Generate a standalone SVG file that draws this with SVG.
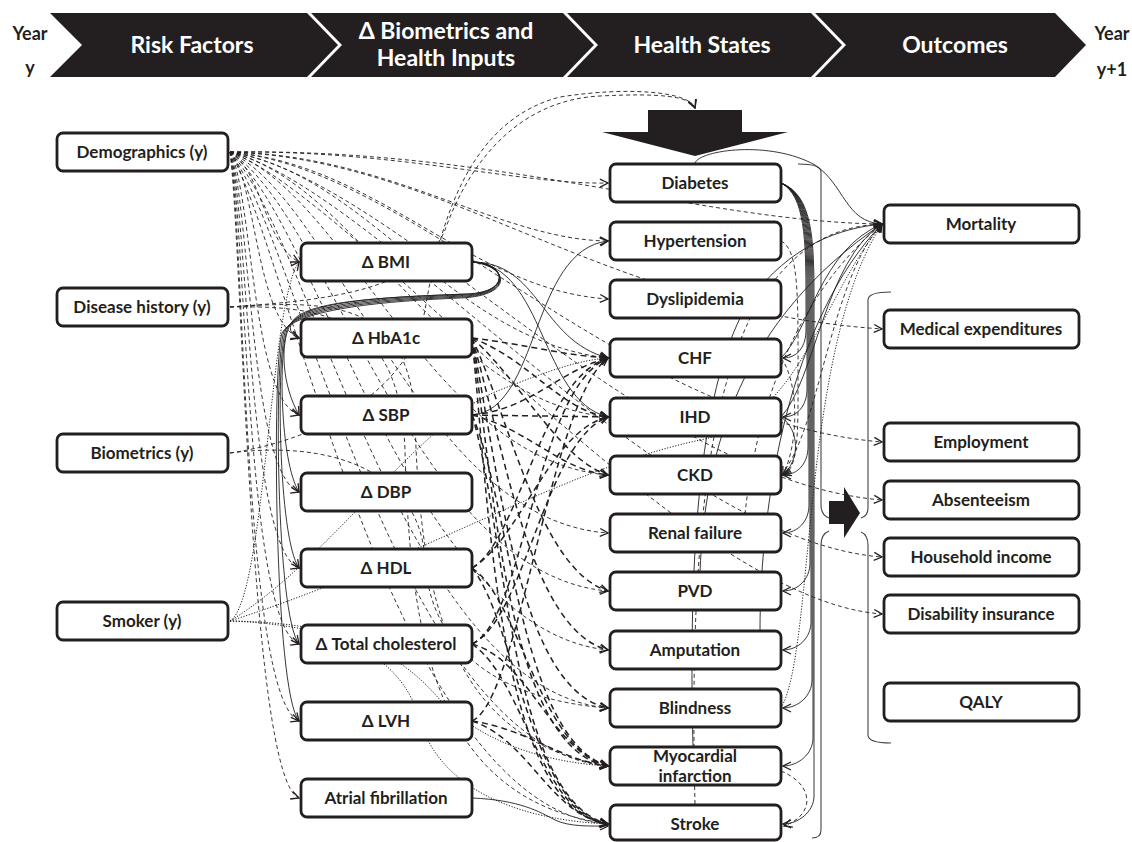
<svg xmlns="http://www.w3.org/2000/svg" width="1132" height="842" viewBox="0 0 1132 842">
<style>
.bn{fill:#231f20}
.bt{fill:#fff;font-family:Lato,"Noto Sans","Liberation Sans",sans-serif;font-weight:bold;font-size:23px;text-anchor:middle}
.yr{fill:#231f20;font-family:Lato,"Noto Sans","Liberation Sans",sans-serif;font-weight:bold;font-size:18px;text-anchor:middle}
.nb{fill:#fff;stroke:#231f20;stroke-width:2.8}
.nt{fill:#231f20;font-family:Lato,"Noto Sans","Liberation Sans",sans-serif;font-weight:bold;font-size:17px;text-anchor:middle}
.c path{fill:none;stroke:#231f20}
.c .d{stroke-width:0.9;stroke-dasharray:4 3;marker-end:url(#a)}
.c .h{stroke-width:1.5;stroke-dasharray:6 4;marker-end:url(#a)}
.c .s{stroke-width:0.9;marker-end:url(#a)}
.c .t{stroke-width:1;stroke-dasharray:1.2 1.6;marker-end:url(#a)}
.br{fill:none;stroke:#444;stroke-width:1.1}
</style>
<defs>
<marker id="a" viewBox="0 0 10 10" refX="9" refY="5" markerWidth="10" markerHeight="10" markerUnits="userSpaceOnUse" orient="auto"><path d="M1,1 L9,5 L1,9" fill="none" stroke="#231f20" stroke-width="1.3" stroke-dasharray="none"/></marker>
</defs>
<g id="banner">
<path class="bn" d="M50,13 L307,13 L338,45 L307,77 L50,77 L82,45 Z"/>
<path class="bn" d="M311,13 L563,13 L594,45 L563,77 L311,77 L342,45 Z"/>
<path class="bn" d="M567,13 L811,13 L842,45 L811,77 L567,77 L598,45 Z"/>
<path class="bn" d="M815,13 L1055,13 L1086,45 L1055,77 L815,77 L846,45 Z"/>
<text class="bt" x="192" y="53">Risk Factors</text>
<text class="bt" x="446" y="39">Δ Biometrics and</text>
<text class="bt" x="446" y="66">Health Inputs</text>
<text class="bt" x="702" y="53">Health States</text>
<text class="bt" x="955" y="53">Outcomes</text>
<text class="yr" x="30" y="40">Year</text>
<text class="yr" x="30" y="74">y</text>
<text class="yr" x="1112" y="40">Year</text>
<text class="yr" x="1112" y="76">y+1</text>
</g>
<g id="bigarrow"><path class="bn" d="M648,110 L742,110 L742,132 L788,132 L695,156 L602,132 L648,132 Z"/></g>
<g id="brackets">
<path class="br" d="M798,164 Q821,164 821,172 L821,505 Q821,515 829,518"/>
<path class="br" d="M829,531 Q821,534 821,545 L821,830 Q821,838 812,838"/>
<path class="br" d="M891,292 Q868,292 868,300 L868,508 Q868,516 861,518"/>
<path class="br" d="M861,532 Q868,535 868,545 L868,735 Q868,743 891,743"/>
<path class="bn" d="M829,501 L844,501 L844,487 L860,513 L844,538 L844,524 L829,524 Z"/>
</g>
<g class="c" id="connectors">
<path class="d" d="M230,152 C400,150 520,185 608,183"/>
<path class="d" d="M230,152 C390,155 500,240 608,241"/>
<path class="d" d="M230,152 C380,165 470,290 608,299"/>
<path class="d" d="M230,152 C370,175 450,340 608,358"/>
<path class="d" d="M230,152 C360,185 440,400 608,417"/>
<path class="d" d="M230,152 C350,195 430,460 608,475"/>
<path class="d" d="M230,152 C340,205 420,520 608,533"/>
<path class="d" d="M230,152 C330,215 415,575 608,591"/>
<path class="d" d="M230,152 C320,225 410,630 608,650"/>
<path class="d" d="M230,152 C310,235 405,690 608,708"/>
<path class="d" d="M230,152 C300,245 400,750 608,766"/>
<path class="d" d="M230,152 C290,255 395,810 608,824"/>
<path class="d" d="M230,152 C500,148 700,222 882,224"/>
<path class="d" d="M230,152 C450,160 600,310 882,329"/>
<path class="d" d="M230,152 C420,170 620,420 882,442"/>
<path class="d" d="M230,152 C400,180 640,480 882,500"/>
<path class="d" d="M230,152 C380,190 660,540 882,557"/>
<path class="d" d="M230,152 C360,200 680,600 882,614"/>
<path class="d" d="M230,152 C262,170 265,245 299,262"/>
<path class="d" d="M230,152 C256,180 256,320 299,338"/>
<path class="d" d="M230,152 C252,190 252,400 299,415"/>
<path class="d" d="M230,152 C250,200 250,475 299,492"/>
<path class="d" d="M230,152 C248,210 248,550 299,568"/>
<path class="d" d="M230,152 C246,220 246,625 299,644"/>
<path class="d" d="M230,152 C244,230 244,700 299,721"/>
<path class="d" d="M230,152 C242,240 250,780 299,798"/>
<path class="d" d="M230,307 C330,300 420,290 445,230 C470,160 520,100 600,96 C660,93 690,96 695,108"/>
<path class="d" d="M230,453 C320,440 410,390 425,310 C440,220 470,120 560,97 C630,86 690,92 695,108"/>
<path class="d" d="M230,307 C330,300 410,300 415,420 C420,600 450,740 608,766"/>
<path class="d" d="M230,307 C330,305 400,320 405,450 C410,650 440,800 608,824"/>
<path class="d" d="M230,453 C330,440 420,470 425,560 C430,650 500,700 608,708"/>
<path class="t" d="M230,621 C265,600 270,300 299,262"/>
<path class="t" d="M230,621 C330,560 420,420 500,390 C550,370 580,360 608,358"/>
<path class="t" d="M230,621 C320,622 390,640 440,700 C480,740 540,762 608,766"/>
<path class="t" d="M230,621 C330,625 400,650 420,720 C440,790 520,820 608,824"/>
<path class="t" d="M230,621 C420,560 560,470 700,440 C800,420 820,300 882,224"/>
<path class="s" d="M472,262 C506,262 512,292 468,294 C390,297 305,300 292,322 C288,330 292,336 299,338"/>
<path class="s" d="M472,262 C506,262 512,292 468,294 C390,297 305,300 290,325 C280,345 282,385 299,415"/>
<path class="s" d="M472,262 C507,263 512,293 466,295 C390,298 303,302 288,327 C278,350 280,462 299,492"/>
<path class="s" d="M472,262 C508,264 513,294 464,296 C390,299 301,304 286,329 C276,355 278,538 299,568"/>
<path class="s" d="M472,262 C508,265 514,295 462,297 C390,300 299,306 284,331 C274,360 276,614 299,644"/>
<path class="s" d="M472,262 C509,266 515,296 460,298 C390,301 297,308 282,333 C272,365 274,691 299,721"/>
<path class="s" d="M472,262 C540,262 540,340 608,358"/>
<path class="s" d="M472,262 C545,265 540,400 608,417"/>
<path class="s" d="M472,415 C540,410 530,250 608,241"/>
<path class="h" d="M472,338 C530,345 560,355 608,358"/>
<path class="h" d="M472,338 C530,360 560,410 608,417"/>
<path class="h" d="M472,338 C520,380 560,460 608,475"/>
<path class="h" d="M472,338 C510,420 540,570 608,591"/>
<path class="h" d="M472,338 C505,450 530,630 608,650"/>
<path class="h" d="M472,338 C500,480 520,690 608,708"/>
<path class="h" d="M472,338 C495,500 510,750 608,766"/>
<path class="h" d="M472,338 C490,520 500,810 608,824"/>
<path class="h" d="M472,415 C530,410 560,370 608,358"/>
<path class="h" d="M472,415 L608,417"/>
<path class="h" d="M472,415 C530,430 560,470 608,475"/>
<path class="h" d="M472,415 C510,500 520,740 608,766"/>
<path class="h" d="M472,415 C505,520 510,800 608,824"/>
<path class="h" d="M472,568 C520,540 540,380 608,358"/>
<path class="h" d="M472,568 C520,540 550,430 608,417"/>
<path class="h" d="M472,568 C520,600 540,750 608,766"/>
<path class="h" d="M472,568 C515,620 530,810 608,824"/>
<path class="h" d="M472,644 C525,620 535,390 608,358"/>
<path class="h" d="M472,644 C525,620 545,440 608,417"/>
<path class="h" d="M472,644 C530,660 550,750 608,766"/>
<path class="h" d="M472,644 C525,680 540,815 608,824"/>
<path class="h" d="M472,721 C530,730 560,760 608,766"/>
<path class="h" d="M472,721 C530,740 550,815 608,824"/>
<path class="h" d="M472,721 C520,700 550,400 608,358"/>
<path class="s" d="M472,798 C520,800 540,812 555,820 C570,827 590,826 608,826"/>
<path class="s" d="M781,183 C805,195 806,240 806,300 L806,330 C806,346 798,358 783,358"/>
<path class="s" d="M781,183 C806,195 807,240 807,300 L807,389 C807,405 798,417 783,417"/>
<path class="s" d="M781,183 C807,195 808,240 808,300 L808,447 C808,463 798,475 783,475"/>
<path class="s" d="M781,183 C808,195 809,240 809,300 L809,505 C809,521 798,533 783,533"/>
<path class="s" d="M781,183 C809,195 810,240 810,300 L810,563 C810,579 798,591 783,591"/>
<path class="s" d="M781,183 C810,195 811,240 811,300 L811,622 C811,638 798,650 783,650"/>
<path class="s" d="M781,183 C811,195 812,240 812,300 L812,680 C812,696 798,708 783,708"/>
<path class="s" d="M781,183 C812,195 813,240 813,300 L813,738 C813,754 798,766 783,766"/>
<path class="s" d="M781,183 C813,195 814,240 814,300 L814,796 C814,812 798,824 783,824"/>
<path class="d" d="M781,241 C800,250 798,300 798,400 C798,450 795,470 783,475"/>
<path class="d" d="M781,358 C798,380 800,440 783,475"/>
<path class="s" d="M781,417 C800,430 800,460 783,475"/>
<path class="d" d="M781,771 C815,785 815,815 784,826"/>
<path class="s" d="M781,358 C810,330 820,250 882,224"/>
<path class="s" d="M781,417 C815,380 825,260 882,224"/>
<path class="d" d="M781,475 C820,430 830,280 882,224"/>
<path class="d" d="M695,804 C690,600 700,400 760,300 C800,240 840,226 882,224"/>
<path class="s" d="M693,747 C688,550 700,380 750,300 C790,245 840,228 882,224"/>
<path class="s" d="M700,572 C705,450 740,320 882,224"/>
<path class="d" d="M745,514 C755,420 790,300 882,224"/>
<path class="s" d="M760,631 C760,500 790,320 882,224"/>
<path class="t" d="M781,708 C815,650 800,350 882,224"/>
<path class="s" d="M695,163 C700,150 770,140 815,165 C845,185 845,222 882,224"/>
</g>
<g id="n-demographics"><rect class="nb" x="57" y="133" width="171" height="38" rx="6"/><text class="nt" x="142" y="158">Demographics (y)</text></g>
<g id="n-disease"><rect class="nb" x="57" y="288" width="171" height="38" rx="6"/><text class="nt" x="142" y="313">Disease  history (y)</text></g>
<g id="n-biometrics"><rect class="nb" x="57" y="434" width="171" height="38" rx="6"/><text class="nt" x="142" y="459">Biometrics (y)</text></g>
<g id="n-smoker"><rect class="nb" x="57" y="602" width="171" height="38" rx="6"/><text class="nt" x="142" y="627">Smoker (y)</text></g>
<g id="n-bmi"><rect class="nb" x="301" y="243" width="171" height="38" rx="6"/><text class="nt" x="386" y="268">Δ BMI</text></g>
<g id="n-hba1c"><rect class="nb" x="301" y="319" width="171" height="38" rx="6"/><text class="nt" x="386" y="344">Δ HbA1c</text></g>
<g id="n-sbp"><rect class="nb" x="301" y="396" width="171" height="38" rx="6"/><text class="nt" x="386" y="421">Δ SBP</text></g>
<g id="n-dbp"><rect class="nb" x="301" y="473" width="171" height="38" rx="6"/><text class="nt" x="386" y="498">Δ DBP</text></g>
<g id="n-hdl"><rect class="nb" x="301" y="549" width="171" height="38" rx="6"/><text class="nt" x="386" y="574">Δ HDL</text></g>
<g id="n-tc"><rect class="nb" x="301" y="625" width="171" height="38" rx="6"/><text class="nt" x="386" y="650">Δ Total cholesterol</text></g>
<g id="n-lvh"><rect class="nb" x="301" y="702" width="171" height="38" rx="6"/><text class="nt" x="386" y="727">Δ LVH</text></g>
<g id="n-af"><rect class="nb" x="301" y="779" width="171" height="38" rx="6"/><text class="nt" x="386" y="804">Atrial fibrillation</text></g>
<g id="n-diabetes"><rect class="nb" x="610" y="164" width="171" height="38" rx="6"/><text class="nt" x="695" y="189">Diabetes</text></g>
<g id="n-hypertension"><rect class="nb" x="610" y="222" width="171" height="38" rx="6"/><text class="nt" x="695" y="247">Hypertension</text></g>
<g id="n-dyslipidemia"><rect class="nb" x="610" y="280" width="171" height="38" rx="6"/><text class="nt" x="695" y="305">Dyslipidemia</text></g>
<g id="n-chf"><rect class="nb" x="610" y="339" width="171" height="38" rx="6"/><text class="nt" x="695" y="364">CHF</text></g>
<g id="n-ihd"><rect class="nb" x="610" y="398" width="171" height="38" rx="6"/><text class="nt" x="695" y="423">IHD</text></g>
<g id="n-ckd"><rect class="nb" x="610" y="456" width="171" height="38" rx="6"/><text class="nt" x="695" y="481">CKD</text></g>
<g id="n-renal"><rect class="nb" x="610" y="514" width="171" height="38" rx="6"/><text class="nt" x="695" y="539">Renal failure</text></g>
<g id="n-pvd"><rect class="nb" x="610" y="572" width="171" height="38" rx="6"/><text class="nt" x="695" y="597">PVD</text></g>
<g id="n-amputation"><rect class="nb" x="610" y="631" width="171" height="38" rx="6"/><text class="nt" x="695" y="656">Amputation</text></g>
<g id="n-blindness"><rect class="nb" x="610" y="689" width="171" height="38" rx="6"/><text class="nt" x="695" y="714">Blindness</text></g>
<g id="n-mi"><rect class="nb" x="610" y="747" width="171" height="38" rx="6"/><text class="nt" x="695" y="762">Myocardial</text><text class="nt" x="695" y="782">infarction</text></g>
<g id="n-stroke"><rect class="nb" x="610" y="805" width="171" height="35" rx="6"/><text class="nt" x="695" y="830">Stroke</text></g>
<g id="n-mortality"><rect class="nb" x="884" y="205" width="195" height="38" rx="6"/><text class="nt" x="981" y="230">Mortality</text></g>
<g id="n-medexp"><rect class="nb" x="884" y="310" width="195" height="38" rx="6"/><text class="nt" x="981" y="335">Medical expenditures</text></g>
<g id="n-employment"><rect class="nb" x="884" y="423" width="195" height="38" rx="6"/><text class="nt" x="981" y="448">Employment</text></g>
<g id="n-absenteeism"><rect class="nb" x="884" y="481" width="195" height="38" rx="6"/><text class="nt" x="981" y="506">Absenteeism</text></g>
<g id="n-household"><rect class="nb" x="884" y="538" width="195" height="38" rx="6"/><text class="nt" x="981" y="563">Household income</text></g>
<g id="n-disability"><rect class="nb" x="884" y="595" width="195" height="38" rx="6"/><text class="nt" x="981" y="620">Disability insurance</text></g>
<g id="n-qaly"><rect class="nb" x="884" y="683" width="195" height="38" rx="6"/><text class="nt" x="981" y="708">QALY</text></g>
</svg>
